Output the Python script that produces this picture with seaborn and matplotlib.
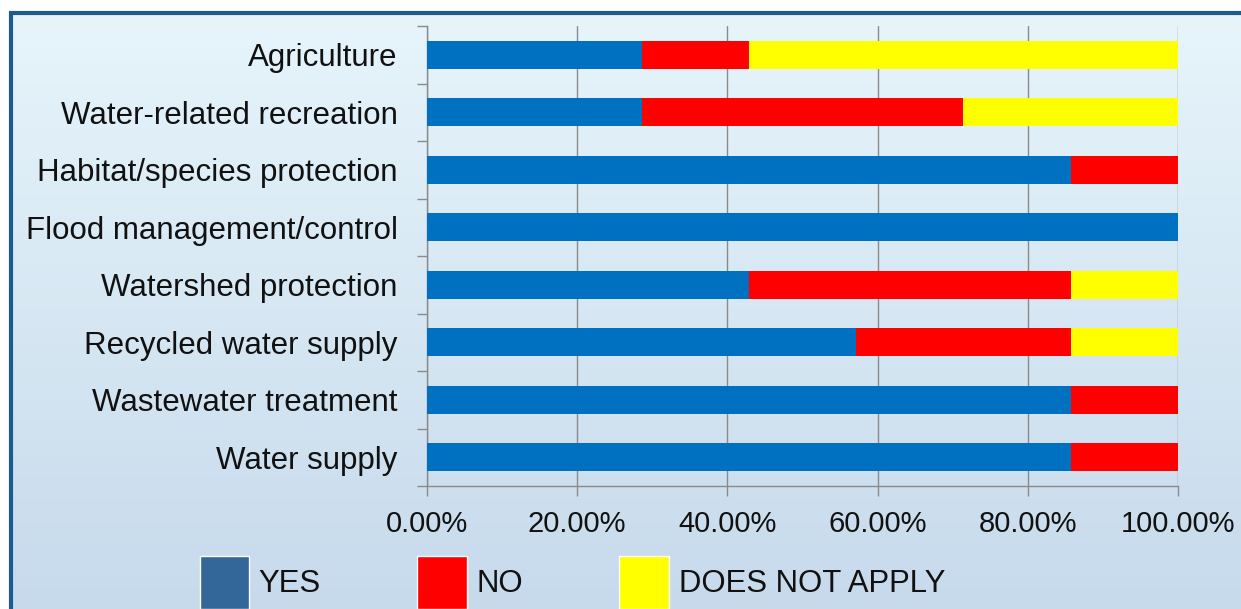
import numpy as np
import pandas as pd
import matplotlib.pyplot as plt
import seaborn as sns
from matplotlib.patches import Rectangle, Patch
from matplotlib.ticker import PercentFormatter, FixedLocator

categories = ["Agriculture", "Water-related recreation", "Habitat/species protection",
              "Flood management/control", "Watershed protection", "Recycled water supply",
              "Wastewater treatment", "Water supply"]
yes = [28.57, 28.57, 85.71, 100.0, 42.86, 57.14, 85.71, 85.71]
no = [14.29, 42.86, 14.29, 0.0, 42.86, 28.57, 14.29, 14.29]
dna = [57.14, 28.57, 0.0, 0.0, 14.29, 14.29, 0.0, 0.0]

df = pd.DataFrame({"Category": categories, "YES": yes, "NO": no, "DOES NOT APPLY": dna})
df["yes_no"] = df["YES"] + df["NO"]
df["total"] = df["yes_no"] + df["DOES NOT APPLY"]

sns.set_style("white")
plt.rcParams["font.family"] = ["Liberation Sans", "DejaVu Sans"]

W, H = 1241, 609
fig = plt.figure(figsize=(W / 100, H / 100), dpi=100)
fig.patch.set_facecolor("white")

# gradient background inside the frame
x0, y1 = 10.5 / W, 1 - 12.5 / H
bg = fig.add_axes([x0, 0, 1 - x0, y1], zorder=-2)
grad = np.linspace(0, 1, 256).reshape(-1, 1)
top_c = np.array([0.905, 0.961, 0.984])
bot_c = np.array([0.780, 0.855, 0.925])
img = top_c + (bot_c - top_c) * grad[:, :, None]
bg.imshow(img, aspect="auto", extent=[0, 1, 0, 1])
bg.axis("off")

frame = Rectangle((x0, -0.05), 1.1, y1 + 0.05, transform=fig.transFigure,
                  fill=False, edgecolor="#1f5a8c", linewidth=3, clip_on=False)
fig.patches.append(frame)

ax = fig.add_axes([427 / W, 1 - 486 / H, (1178 - 427) / W, (486 - 26) / H])
ax.patch.set_alpha(0)

bar_h = 0.48
sns.barplot(data=df, x="total", y="Category", color="#ffff00", width=bar_h,
            saturation=1, linewidth=0, ax=ax, zorder=3)
sns.barplot(data=df, x="yes_no", y="Category", color="#ff0000", width=bar_h,
            saturation=1, linewidth=0, ax=ax, zorder=3)
sns.barplot(data=df, x="YES", y="Category", color="#0070c0", width=bar_h,
            saturation=1, linewidth=0, ax=ax, zorder=3)

ax.set_xlim(0, 100)
ax.set_ylim(len(categories) - 0.5, -0.5)
ax.set_xlabel("")
ax.set_ylabel("")
ax.xaxis.set_major_formatter(PercentFormatter(xmax=100, decimals=2))
ax.set_xticks([0, 20, 40, 60, 80, 100])
ax.grid(axis="x", color="#8a8a8a", linewidth=1, zorder=0)
ax.set_axisbelow(True)

for s in ["top", "right"]:
    ax.spines[s].set_visible(False)
for s in ["left", "bottom"]:
    ax.spines[s].set_color("#8a8a8a")
    ax.spines[s].set_linewidth(1)

ax.tick_params(axis="x", direction="out", length=7, width=1, color="#8a8a8a",
               pad=10, labelsize=21, labelcolor="#111111", bottom=True)
ax.tick_params(axis="y", which="major", length=0, pad=21, labelsize=22.5,
               labelcolor="#111111")
ax.yaxis.set_minor_locator(FixedLocator(np.arange(-0.5, len(categories), 1)))
ax.tick_params(axis="y", which="minor", direction="out", length=7, width=1,
               color="#8a8a8a", left=True)

handles = [Patch(facecolor="#336699", label="YES"),
           Patch(facecolor="#ff0000", label="NO"),
           Patch(facecolor="#ffff00", label="DOES NOT APPLY")]
fig.legend(handles=handles, loc="upper left", bbox_to_anchor=(184 / W, 1 - 540 / H),
           ncol=3, frameon=False, fontsize=22.4, handlelength=1.6, handleheight=2.25,
           handletextpad=0.3, columnspacing=3.1, borderpad=0, labelcolor="#111111")

fig.savefig("out.png", dpi=100)
